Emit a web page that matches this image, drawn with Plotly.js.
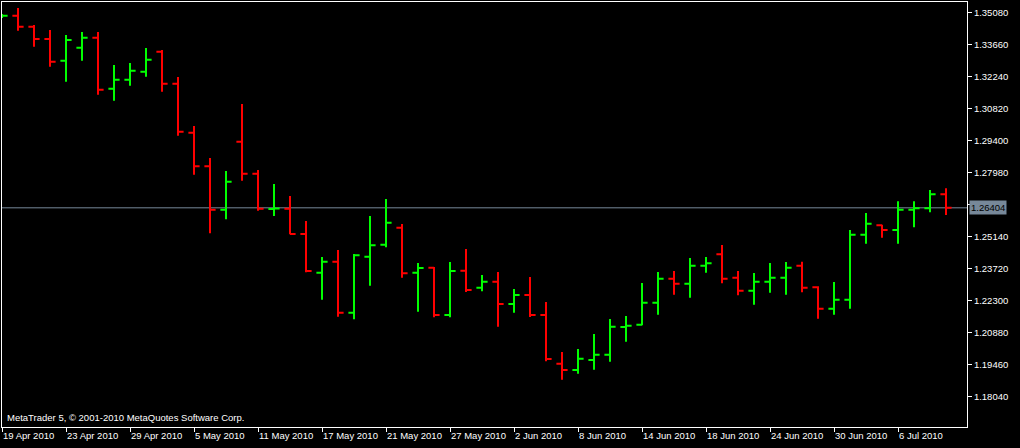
<!DOCTYPE html>
<html>
<head>
<meta charset="utf-8">
<script src="https://cdn.plot.ly/plotly-3.0.1.min.js"></script>
<style>
  html, body { margin: 0; padding: 0; background: #000; }
  #chart { width: 1020px; height: 448px; }
</style>
</head>
<body>
<div id="chart"></div>
<script>
const dates = [
  '2010-04-19','2010-04-20','2010-04-21','2010-04-22','2010-04-23',
  '2010-04-26','2010-04-27','2010-04-28','2010-04-29','2010-04-30',
  '2010-05-03','2010-05-04','2010-05-05','2010-05-06','2010-05-07',
  '2010-05-10','2010-05-11','2010-05-12','2010-05-13','2010-05-14',
  '2010-05-17','2010-05-18','2010-05-19','2010-05-20','2010-05-21',
  '2010-05-24','2010-05-25','2010-05-26','2010-05-27','2010-05-28',
  '2010-05-31','2010-06-01','2010-06-02','2010-06-03','2010-06-04',
  '2010-06-07','2010-06-08','2010-06-09','2010-06-10','2010-06-11',
  '2010-06-14','2010-06-15','2010-06-16','2010-06-17','2010-06-18',
  '2010-06-21','2010-06-22','2010-06-23','2010-06-24','2010-06-25',
  '2010-06-28','2010-06-29','2010-06-30','2010-07-01','2010-07-02',
  '2010-07-05','2010-07-06','2010-07-07','2010-07-08','2010-07-09'
];

const open = [
  1.34894,1.34929,1.34441,1.33895,1.32932,1.33509,1.33953,1.31690,1.32089,1.32444,
  1.33332,1.31912,1.29737,1.28246,1.26321,1.29338,1.27918,1.26356,1.26365,1.25242,
  1.23525,1.24013,1.21750,1.24235,1.24768,1.25522,1.23525,1.23747,1.21648,1.23614,
  1.22859,1.23126,1.22136,1.22535,1.21648,1.19487,1.19207,1.19651,1.19886,1.21120,
  1.21217,1.22194,1.23259,1.23037,1.23836,1.24341,1.23303,1.22726,1.23126,1.23303,
  1.23836,1.22877,1.21927,1.22327,1.25211,1.25628,1.25420,1.26321,1.26383,1.27004
];
const high = [
  1.35005,1.35271,1.34517,1.34295,1.34073,1.34206,1.34206,1.32742,1.32830,1.33496,
  1.33407,1.32209,1.30035,1.28615,1.28038,1.31011,1.28082,1.27461,1.26929,1.25819,
  1.24222,1.24532,1.24355,1.26041,1.26795,1.25686,1.23955,1.23778,1.24000,1.24576,
  1.23423,1.23556,1.22802,1.23334,1.22225,1.20006,1.20139,1.20805,1.21470,1.21603,
  1.23068,1.23556,1.23600,1.24177,1.24222,1.24754,1.23600,1.23512,1.23955,1.24000,
  1.24013,1.22921,1.23112,1.25420,1.26174,1.25655,1.26693,1.26693,1.27195,1.27270
];
const low = [
  1.34827,1.34264,1.33554,1.32666,1.32001,1.32932,1.31424,1.31157,1.31823,1.32222,
  1.31557,1.29604,1.27874,1.25273,1.25895,1.27607,1.26276,1.26041,1.25229,1.23543,
  1.22327,1.21572,1.21457,1.22948,1.24652,1.23303,1.21794,1.21546,1.21546,1.22669,
  1.22700,1.21129,1.21750,1.21559,1.19593,1.18777,1.19043,1.19221,1.19576,1.20463,
  1.21191,1.21661,1.22549,1.22416,1.23525,1.23055,1.22522,1.22105,1.22637,1.22549,
  1.22655,1.21484,1.21661,1.21927,1.24812,1.25078,1.24812,1.25539,1.26205,1.26085
];
const close = [
  1.34929,1.34441,1.33895,1.32888,1.33851,1.33953,1.31646,1.32089,1.32489,1.32977,
  1.31912,1.29782,1.28246,1.26321,1.27563,1.27918,1.26365,1.26374,1.25242,1.23600,
  1.24013,1.21750,1.24297,1.24741,1.25744,1.23498,1.23734,1.21648,1.23600,1.22757,
  1.23126,1.22136,1.22535,1.21648,1.19695,1.19207,1.19709,1.19886,1.21129,1.21173,
  1.22194,1.23259,1.23037,1.23836,1.23942,1.23259,1.22726,1.23126,1.23303,1.23747,
  1.22859,1.21927,1.22327,1.25211,1.25699,1.25420,1.26321,1.26383,1.27004,1.26404
];

const tickDates = ['2010-04-19','2010-04-23','2010-04-29','2010-05-05','2010-05-11',
  '2010-05-17','2010-05-21','2010-05-27','2010-06-02','2010-06-08','2010-06-14',
  '2010-06-18','2010-06-24','2010-06-30','2010-07-06'];
const tickLabels = ['19 Apr 2010','23 Apr 2010','29 Apr 2010','5 May 2010','11 May 2010',
  '17 May 2010','21 May 2010','27 May 2010','2 Jun 2010','8 Jun 2010','14 Jun 2010',
  '18 Jun 2010','24 Jun 2010','30 Jun 2010','6 Jul 2010'];

// 1.26560 tick sits under the current-price marker, its label is hidden there
const priceTicks = [1.18040,1.19460,1.20880,1.22300,1.23720,1.25140,1.26560,1.27980,1.29400,1.30820,1.32240,1.33660,1.35080];
const priceTickLabels = ['1.18040','1.19460','1.20880','1.22300','1.23720','1.25140','','1.27980','1.29400','1.30820','1.32240','1.33660','1.35080'];

const currentPrice = 1.26404;
const currentLabel = '1.26404';
const watermark = 'MetaTrader 5, © 2001-2010 MetaQuotes Software Corp.';

const FONT = 'Liberation Sans, Arial, sans-serif';

const trace = {
  type: 'ohlc',
  x: dates, open: open, high: high, low: low, close: close,
  increasing: { line: { color: '#00ff00', width: 2 } },
  decreasing: { line: { color: '#ff0000', width: 2 } },
  tickwidth: 0.35,
  hoverinfo: 'skip'
};

const layout = {
  width: 1020, height: 448,
  margin: { l: 2, r: 53, t: 2, b: 21, pad: 0 },
  paper_bgcolor: '#000000',
  plot_bgcolor: '#000000',
  showlegend: false,
  font: { family: FONT, size: 9.5, color: '#ffffff' },
  xaxis: {
    type: 'category',
    range: [0, 60.3125],
    rangeslider: { visible: false },
    showgrid: false, zeroline: false,
    showline: true, linecolor: '#ffffff', linewidth: 1, mirror: true,
    ticks: 'outside', ticklen: 4, tickcolor: '#ffffff', tickwidth: 1,
    tickvals: tickDates, ticktext: tickLabels,
    ticklabelposition: 'outside right',
    tickfont: { family: FONT, size: 9.5, color: '#ffffff' },
    fixedrange: true
  },
  yaxis: {
    side: 'right',
    range: [1.16678, 1.35537],
    showgrid: false, zeroline: false,
    showline: true, linecolor: '#ffffff', linewidth: 1, mirror: true,
    ticks: 'outside', ticklen: 4, tickcolor: '#ffffff', tickwidth: 1,
    tickvals: priceTicks, ticktext: priceTickLabels,
    tickfont: { family: FONT, size: 9.5, color: '#ffffff' },
    fixedrange: true
  },
  shapes: [{
    type: 'line', xref: 'paper', x0: 0, x1: 1, yref: 'y', y0: currentPrice, y1: currentPrice,
    line: { color: '#778899', width: 1 }, layer: 'below'
  }],
  annotations: [
    {
      xref: 'paper', x: 1, xanchor: 'left', xshift: 2,
      yref: 'y', y: currentPrice, yanchor: 'middle',
      text: currentLabel, showarrow: false,
      bgcolor: '#778899', borderpad: 1,
      font: { family: FONT, size: 9.5, color: '#000000' }
    },
    {
      xref: 'paper', x: 0, xanchor: 'left', xshift: 3,
      yref: 'paper', y: 0, yanchor: 'bottom', yshift: 2,
      text: watermark, showarrow: false,
      font: { family: FONT, size: 9.5, color: '#ffffff' }
    }
  ]
};

Plotly.newPlot('chart', [trace], layout, { staticPlot: true, displayModeBar: false });
</script>
</body>
</html>
